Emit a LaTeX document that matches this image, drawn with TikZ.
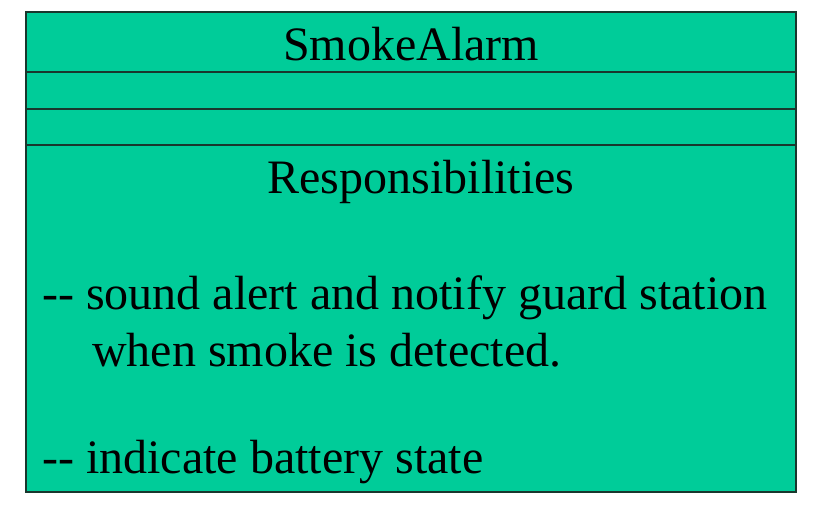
\documentclass[tikz,border=0pt]{standalone}
\usepackage{fontspec}
\setmainfont{Liberation Serif}
\definecolor{AlarmGreen}{RGB}{0,204,153}
\definecolor{AlarmEdge} {RGB}{25,55,45}
\usetikzlibrary{positioning}

\begin{document}
\begin{tikzpicture}[x=1pt,y=-1pt,
    every node/.style={font=\fontsize{48}{57}\selectfont,inner sep=0pt},
    part/.style={draw=AlarmEdge,line width=1.3pt}]
  \useasboundingbox (0,0) rectangle (817,505);
  % class box and its compartments
  \draw[part,fill=AlarmGreen] (26,12) rectangle (796,492);
  \foreach \y in {72,109,145}
    \draw[part] (26,\y)--(796,\y);
  \node[anchor=base] (name) at (411,61) {SmokeAlarm};
  \node[anchor=base] (resp) at (421,194) {Responsibilities};
  \node[anchor=base west] (duty1) at (42,309)
    {-\kern0pt- sound alert and notify guard station};
  \node[anchor=base west] (duty1b) at (92,366) {when smoke is detected.};
  \node[anchor=base west] (duty2) at (42,473)
    {-\kern0pt- indicate battery state};
\end{tikzpicture}
\end{document}
